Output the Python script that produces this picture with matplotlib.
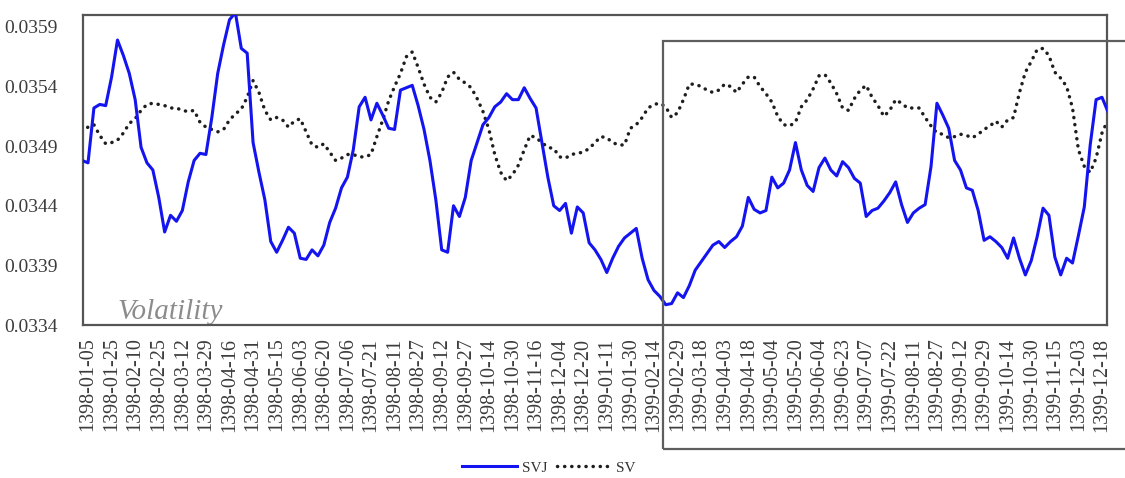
import numpy as np
import matplotlib
matplotlib.use("Agg")
import matplotlib.pyplot as plt
from matplotlib.patches import Rectangle

# Date labels (Solar Hijri calendar), one every fourth observation
dates = [
    "1398-01-05", "1398-01-25", "1398-02-10", "1398-02-25", "1398-03-12",
    "1398-03-29", "1398-04-16", "1398-04-31", "1398-05-15", "1398-06-03",
    "1398-06-20", "1398-07-06", "1398-07-21", "1398-08-11", "1398-08-27",
    "1398-09-12", "1398-09-27", "1398-10-14", "1398-10-30", "1398-11-16",
    "1398-12-04", "1398-12-20", "1399-01-11", "1399-01-30", "1399-02-14",
    "1399-02-29", "1399-03-18", "1399-04-03", "1399-04-18", "1399-05-04",
    "1399-05-20", "1399-06-04", "1399-06-23", "1399-07-07", "1399-07-22",
    "1399-08-11", "1399-08-27", "1399-09-12", "1399-09-29", "1399-10-14",
    "1399-10-30", "1399-11-15", "1399-12-03", "1399-12-18",
]

# Volatility estimated by the stochastic-volatility-with-jumps model
svj = [
    0.03478, 0.03476, 0.03522, 0.03525, 0.03524, 0.03548, 0.03579, 0.03566, 0.03551, 0.03529,
    0.03489, 0.03476, 0.03470, 0.03447, 0.03418, 0.03432, 0.03427, 0.03436, 0.03460, 0.03478,
    0.03484, 0.03483, 0.03514, 0.03551, 0.03575, 0.03596, 0.03602, 0.03572, 0.03568, 0.03493,
    0.03468, 0.03445, 0.03410, 0.03401, 0.03411, 0.03422, 0.03417, 0.03396, 0.03395, 0.03403,
    0.03398, 0.03407, 0.03426, 0.03438, 0.03455, 0.03464, 0.03487, 0.03523, 0.03531, 0.03512,
    0.03526, 0.03516, 0.03505, 0.03504, 0.03537, 0.03539, 0.03541, 0.03524, 0.03504, 0.03478,
    0.03445, 0.03403, 0.03401, 0.03440, 0.03431, 0.03447, 0.03478, 0.03493, 0.03508, 0.03514,
    0.03523, 0.03527, 0.03534, 0.03529, 0.03529, 0.03539, 0.03530, 0.03522, 0.03493, 0.03464,
    0.03440, 0.03436, 0.03442, 0.03417, 0.03439, 0.03434, 0.03409, 0.03403, 0.03395, 0.03384,
    0.03396, 0.03406, 0.03413, 0.03417, 0.03421, 0.03396, 0.03378, 0.03369, 0.03364, 0.03357,
    0.03358, 0.03367, 0.03363, 0.03373, 0.03386, 0.03393, 0.03400, 0.03407, 0.03410, 0.03405,
    0.03410, 0.03414, 0.03423, 0.03447, 0.03437, 0.03434, 0.03436, 0.03464, 0.03455, 0.03459,
    0.03470, 0.03493, 0.03470, 0.03457, 0.03452, 0.03472, 0.03480, 0.03470, 0.03465, 0.03477,
    0.03472, 0.03463, 0.03459, 0.03431, 0.03436, 0.03438, 0.03444, 0.03451, 0.03460, 0.03441,
    0.03426, 0.03434, 0.03438, 0.03441, 0.03473, 0.03526, 0.03516, 0.03505, 0.03478, 0.03470,
    0.03455, 0.03453, 0.03436, 0.03411, 0.03414, 0.03410, 0.03405, 0.03396, 0.03413, 0.03396,
    0.03382, 0.03394, 0.03414, 0.03438, 0.03432, 0.03397, 0.03382, 0.03396, 0.03392, 0.03415,
    0.03439, 0.03491, 0.03529, 0.03531, 0.03519,
]

# Volatility estimated by the plain stochastic-volatility model
sv = [
    0.03502, 0.03506, 0.03508, 0.03499, 0.03492, 0.03493, 0.03495, 0.03501, 0.03509, 0.03513,
    0.03520, 0.03525, 0.03526, 0.03525, 0.03524, 0.03522, 0.03522, 0.03520, 0.03519, 0.03520,
    0.03510, 0.03506, 0.03504, 0.03502, 0.03504, 0.03512, 0.03517, 0.03521, 0.03531, 0.03545,
    0.03535, 0.03520, 0.03512, 0.03514, 0.03512, 0.03506, 0.03511, 0.03513, 0.03502, 0.03491,
    0.03489, 0.03492, 0.03485, 0.03478, 0.03480, 0.03483, 0.03483, 0.03481, 0.03481, 0.03483,
    0.03498, 0.03512, 0.03528, 0.03540, 0.03551, 0.03565, 0.03569, 0.03556, 0.03542, 0.03531,
    0.03527, 0.03535, 0.03548, 0.03552, 0.03546, 0.03543, 0.03539, 0.03530, 0.03519, 0.03504,
    0.03483, 0.03468, 0.03461, 0.03466, 0.03474, 0.03487, 0.03499, 0.03497, 0.03493, 0.03489,
    0.03488, 0.03481, 0.03480, 0.03483, 0.03484, 0.03485, 0.03488, 0.03493, 0.03498, 0.03497,
    0.03493, 0.03491, 0.03491, 0.03505, 0.03508, 0.03514, 0.03522, 0.03525, 0.03526, 0.03523,
    0.03514, 0.03518, 0.03529, 0.03542, 0.03542, 0.03540, 0.03537, 0.03535, 0.03537, 0.03542,
    0.03540, 0.03535, 0.03542, 0.03548, 0.03548, 0.03540, 0.03534, 0.03527, 0.03515, 0.03508,
    0.03507, 0.03510, 0.03523, 0.03529, 0.03538, 0.03549, 0.03550, 0.03543, 0.03534, 0.03522,
    0.03520, 0.03530, 0.03537, 0.03541, 0.03531, 0.03524, 0.03515, 0.03520, 0.03529, 0.03526,
    0.03522, 0.03522, 0.03522, 0.03514, 0.03507, 0.03501, 0.03500, 0.03497, 0.03498, 0.03500,
    0.03499, 0.03497, 0.03500, 0.03504, 0.03507, 0.03511, 0.03506, 0.03512, 0.03514, 0.03535,
    0.03552, 0.03561, 0.03571, 0.03572, 0.03566, 0.03552, 0.03547, 0.03540, 0.03522, 0.03487,
    0.03473, 0.03468, 0.03480, 0.03501, 0.03512,
]

y_ticks = [0.0334, 0.0339, 0.0344, 0.0349, 0.0354, 0.0359]

plt.rcParams["font.family"] = ["Liberation Serif", "DejaVu Serif"]

W, H = 1125, 478
fig = plt.figure(figsize=(W / 100, H / 100), dpi=100)
ax = fig.add_axes([83 / W, 1 - 325 / H, (1107 - 83) / W, (325 - 15) / H])

x = np.arange(len(svj))
ax.plot(x, svj, color="#1414f0", lw=2.2, solid_joinstyle="round", label="SVJ", zorder=3)
ax.plot(x, sv, color="#1e1e1e", lw=2.5, linestyle=(0, (0.05, 2.0)),
        dash_capstyle="round", label="SV", zorder=2)

ax.set_xlim(0.15, len(svj) - 1.15)
ax.set_ylim(0.0334, 0.0360)

ax.set_yticks(y_ticks)
ax.set_yticklabels([f"{v:.4f}" for v in y_ticks])
tick_pos = np.arange(1, len(svj), 4)[:len(dates)]
ax.set_xticks(tick_pos)
ax.set_xticklabels(dates, rotation=90, va="top", ha="center")

ax.tick_params(axis="both", length=0, colors="#3c3c3c")
ax.tick_params(axis="y", pad=18, labelsize=14)
ax.tick_params(axis="x", pad=9, labelsize=14.5)

for s in ax.spines.values():
    s.set_color("#555555")
    s.set_linewidth(1.6)

ax.text(0.034, 0.018, "Volatility", transform=ax.transAxes, fontsize=21,
        style="italic", color="#8c8c8c", zorder=1)

fig.legend(loc="lower center", bbox_to_anchor=(0.488, -0.022), ncol=2, frameon=False,
           fontsize=11, handlelength=3.6, columnspacing=0.6, handletextpad=0.3,
           labelcolor="#333333")

# Outer frame drawn around the lower-right part of the figure
fig.add_artist(Rectangle((663 / W, 1 - 449 / H), 1.0, (449 - 41) / H,
                         transform=fig.transFigure, fill=False,
                         edgecolor="#5e5e5e", lw=1.6, zorder=5))

fig.savefig("out.png", dpi=100)
